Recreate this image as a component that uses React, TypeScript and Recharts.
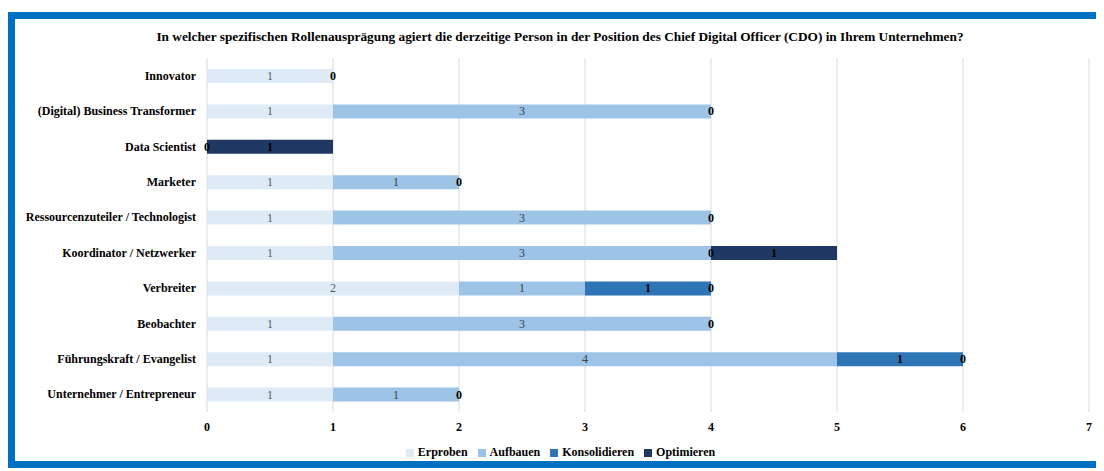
import { BarChart, Bar, XAxis, YAxis, CartesianGrid, Legend, LabelList, ReferenceDot } from "recharts";

const categories = [
  "Innovator",
  "(Digital) Business Transformer",
  "Data Scientist",
  "Marketer",
  "Ressourcenzuteiler / Technologist",
  "Koordinator / Netzwerker",
  "Verbreiter",
  "Beobachter",
  "Führungskraft / Evangelist",
  "Unternehmer / Entrepreneur",
];

const erproben = [1, 1, 0, 1, 1, 1, 2, 1, 1, 1];
const aufbauen = [0, 3, 0, 1, 3, 3, 1, 3, 4, 1];
const konsolidieren = [0, 0, 0, 0, 0, 0, 1, 0, 1, 0];
const optimieren = [0, 0, 1, 0, 0, 1, 0, 0, 0, 0];

const seriesNames = ["Erproben", "Aufbauen", "Konsolidieren", "Optimieren"];
const xTicks = [0, 1, 2, 3, 4, 5, 6, 7];

const title =
  "In welcher spezifischen Rollenausprägung agiert die derzeitige Person in der Position des Chief Digital Officer (CDO) in Ihrem Unternehmen?";

const data = categories.map((name, i) => ({
  name,
  Erproben: erproben[i],
  Aufbauen: aufbauen[i],
  Konsolidieren: konsolidieren[i],
  Optimieren: optimieren[i],
}));

// zero-size segments get no rectangle, so their "0" labels are placed as reference dots
// at the stack position where the empty segment sits (one per row and position)
const zeroLabels: { name: string; at: number }[] = [];
categories.forEach((name, i) => {
  const vals = [erproben[i], aufbauen[i], konsolidieren[i], optimieren[i]];
  let sum = 0;
  const seen = new Set<number>();
  vals.forEach((v) => {
    if (v === 0 && !seen.has(sum)) {
      seen.add(sum);
      zeroLabels.push({ name, at: sum });
    }
    sum += v;
  });
});

const serif = "'Liberation Serif', serif";

// label drawn in the middle of the segment
const centerLabel = (color: string, bold: boolean) => (props: any) => {
  const { x, y, width, height, value } = props;
  return (
    <text
      x={Number(x) + Number(width) / 2}
      y={Number(y) + Number(height) / 2}
      dy={4}
      textAnchor="middle"
      fill={color}
      fontSize={12}
      fontWeight={bold ? "bold" : "normal"}
      fontFamily={serif}
    >
      {value}
    </text>
  );
};

const CategoryTick = (props: any) => {
  const { x, y, payload } = props;
  return (
    <text x={x} y={y} dy={4} textAnchor="end" fontSize={12} fontWeight="bold" fill="#000" fontFamily={serif}>
      {payload.value}
    </text>
  );
};

export default function App() {
  return (
    <div style={{ position: "relative", width: 1096, height: 463, fontFamily: serif }}>
      {/* blue frame, right side runs off the picture */}
      <div
        style={{
          position: "absolute",
          top: 4,
          left: 0,
          width: 1089,
          height: 442,
          borderTop: "7px solid #0070C0",
          borderLeft: "7px solid #0070C0",
          borderBottom: "7px solid #0070C0",
        }}
      />
      <div
        style={{
          position: "absolute",
          top: 21,
          left: 0,
          width: 1104,
          textAlign: "center",
          fontSize: 13.3,
          fontWeight: "bold",
          color: "#000",
        }}
      >
        {title}
      </div>
      <div style={{ position: "absolute", top: 0, left: 0 }}>
        <BarChart
          width={1096}
          height={463}
          data={data}
          layout="vertical"
          barSize={14}
          margin={{ top: 50, right: 15, left: 0, bottom: 19 }}
        >
          <CartesianGrid horizontal={false} stroke="#d9d9d9" />
          <XAxis
            type="number"
            domain={[0, 7]}
            ticks={xTicks}
            axisLine={false}
            tickLine={false}
            height={25}
            tickMargin={4}
            tick={{ fontSize: 12, fontWeight: "bold", fill: "#000", fontFamily: serif }}
          />
          <YAxis
            type="category"
            dataKey="name"
            width={199}
            axisLine={false}
            tickLine={false}
            tickSize={0}
            tickMargin={11}
            interval={0}
            tick={<CategoryTick />}
          />
          <Legend
            verticalAlign="bottom"
            iconType="square"
            iconSize={8}
            itemSorter={(item: any) => seriesNames.indexOf(item.value)}
            wrapperStyle={{ bottom: 11, left: 17, fontSize: 12, fontWeight: "bold", fontFamily: serif }}
            formatter={(v: string) => <span style={{ color: "#000" }}>{v}</span>}
          />
          <Bar dataKey="Erproben" stackId="a" fill="#DEEBF7" isAnimationActive={false}>
            <LabelList dataKey="Erproben" content={centerLabel("#595959", false)} />
          </Bar>
          <Bar dataKey="Aufbauen" stackId="a" fill="#9DC3E6" isAnimationActive={false}>
            <LabelList dataKey="Aufbauen" content={centerLabel("#404040", false)} />
          </Bar>
          <Bar dataKey="Konsolidieren" stackId="a" fill="#2E75B6" isAnimationActive={false}>
            <LabelList dataKey="Konsolidieren" content={centerLabel("#000", true)} />
          </Bar>
          <Bar dataKey="Optimieren" stackId="a" fill="#203864" isAnimationActive={false}>
            <LabelList dataKey="Optimieren" content={centerLabel("#000", true)} />
          </Bar>
          {zeroLabels.map((z) => (
            <ReferenceDot
              key={z.name + z.at}
              x={z.at}
              y={z.name}
              r={0}
              fill="none"
              stroke="none"
              label={{ value: "0", position: "center", fill: "#000", fontSize: 12, fontWeight: "bold", fontFamily: serif }}
            />
          ))}
        </BarChart>
      </div>
    </div>
  );
}
